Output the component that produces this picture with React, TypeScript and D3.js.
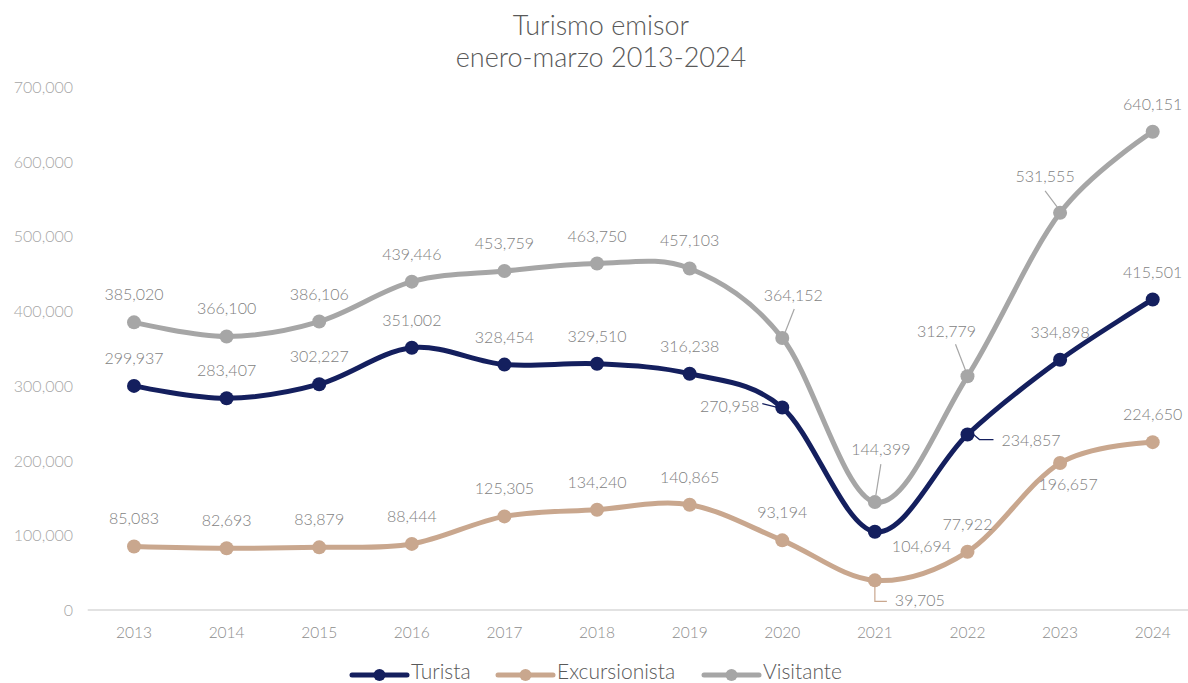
import React from "react";
import * as d3 from "d3";

const years = ["2013","2014","2015","2016","2017","2018","2019","2020","2021","2022","2023","2024"];
const turista = [299937,283407,302227,351002,328454,329510,316238,270958,104694,234857,334898,415501];
const excursionista = [85083,82693,83879,88444,125305,134240,140865,93194,39705,77922,196657,224650];
const visitante = [385020,366100,386106,439446,453759,463750,457103,364152,144399,312779,531555,640151];
const yTicks = [0,100000,200000,300000,400000,500000,600000,700000];

type Lab = { dx: number; dy: number; anchor?: string; leader?: [number, number][] };
// label placement per series (offsets relative to point)
const std: Lab = { dx: 0, dy: -22 };
const turistaLabels: Lab[] = years.map((_, i) => {
  if (i === 7) return { dx: -23, dy: 4, anchor: "end", leader: [[-20, -4], [-4, 0]] };
  if (i === 8) return { dx: 17, dy: 20, anchor: "start" };
  if (i === 9) return { dx: 34, dy: 11, anchor: "start", leader: [[6, 0], [12, 5], [26, 5]] };
  return std;
});
const excLabels: Lab[] = years.map((_, i) => {
  if (i === 8) return { dx: 20, dy: 26, anchor: "start", leader: [[0, 6], [0, 21], [12, 21]] };
  if (i === 10) return { dx: 8, dy: 27 };
  return std;
});
const visLabels: Lab[] = years.map((_, i) => {
  if (i === 7) return { dx: 11, dy: -37, leader: [[12, -29], [3, -6]] };
  if (i === 8) return { dx: 6, dy: -47, leader: [[6, -38], [1, -7]] };
  if (i === 9) return { dx: -21, dy: -39, leader: [[-12, -32], [-2, -6]] };
  if (i === 10) return { dx: -15, dy: -31, leader: [[-15, -22], [-3, -6]] };
  return std;
});

const fmt = d3.format(",");
const FONT = "Lato, 'Noto Sans', sans-serif";

export default function App() {
  const W = 1188, H = 683;
  const x = d3.scaleBand<string>().domain(years).range([87.7, 1199]);
  const cx = (i: number) => (x(years[i]) as number) + x.bandwidth() / 2;
  const y = d3.scaleLinear().domain([0, 700000]).range([610, 87]);
  const line = d3
    .line<number>()
    .x((_, i) => cx(i))
    .y((d) => y(d))
    .curve(d3.curveCardinal.tension(0));

  const series = [
    { name: "Turista", data: turista, color: "#141f5e", labels: turistaLabels },
    { name: "Excursionista", data: excursionista, color: "#c9a78e", labels: excLabels },
    { name: "Visitante", data: visitante, color: "#a6a6a6", labels: visLabels },
  ];
  const legend = [
    { name: "Turista", color: "#141f5e", x0: 352 },
    { name: "Excursionista", color: "#c9a78e", x0: 498 },
    { name: "Visitante", color: "#a6a6a6", x0: 704 },
  ];

  return (
    <svg width={W} height={H} style={{ position: "absolute", left: 0, top: 0, fontFamily: FONT }}>
      <rect width={W} height={H} fill="#ffffff" />
      <text x={601} y={35} textAnchor="middle" fontSize={27} fontWeight={300} fill="#595959">Turismo emisor</text>
      <text x={601} y={67} textAnchor="middle" fontSize={27} fontWeight={300} fill="#595959">enero-marzo 2013-2024</text>

      {yTicks.map((t) => (
        <text key={t} x={73} y={y(t) + 6} textAnchor="end" fontSize={16} fontWeight={300} fill="#a6a6a6">{fmt(t)}</text>
      ))}
      <line x1={87.7} x2={W} y1={y(0)} y2={y(0)} stroke="#d9d9d9" strokeWidth={1.5} />
      {years.map((yr, i) => (
        <text key={yr} x={cx(i)} y={638} textAnchor="middle" fontSize={15.5} fontWeight={300} fill="#8c8c8c">{yr}</text>
      ))}

      {series.map((s) => (
        <g key={s.name}>
          <path d={line(s.data) as string} fill="none" stroke={s.color} strokeWidth={5} strokeLinecap="round" />
          {s.data.map((d, i) => (
            <circle key={i} cx={cx(i)} cy={y(d)} r={7} fill={s.color} />
          ))}
        </g>
      ))}

      {series.map((s) => (
        <g key={s.name + "-lab"}>
          {s.data.map((d, i) => {
            const l = s.labels[i];
            const px = cx(i), py = y(d);
            return (
              <g key={i}>
                {l.leader && (
                  <polyline
                    points={l.leader.map(([a, b]) => `${px + a},${py + b}`).join(" ")}
                    fill="none"
                    stroke={s.color}
                    strokeWidth={1.2}
                  />
                )}
                <text x={px + l.dx} y={py + l.dy} textAnchor={l.anchor || "middle"} fontSize={16} fontWeight={300} fill="#7f7f7f">{fmt(d)}</text>
              </g>
            );
          })}
        </g>
      ))}

      {legend.map((g) => (
        <g key={g.name}>
          <line x1={g.x0} x2={g.x0 + 55} y1={675} y2={675} stroke={g.color} strokeWidth={5} strokeLinecap="round" />
          <circle cx={g.x0 + 27.5} cy={675} r={6} fill={g.color} />
          <text x={g.x0 + 59} y={679} fontSize={21} fontWeight={300} fill="#595959">{g.name}</text>
        </g>
      ))}
    </svg>
  );
}
